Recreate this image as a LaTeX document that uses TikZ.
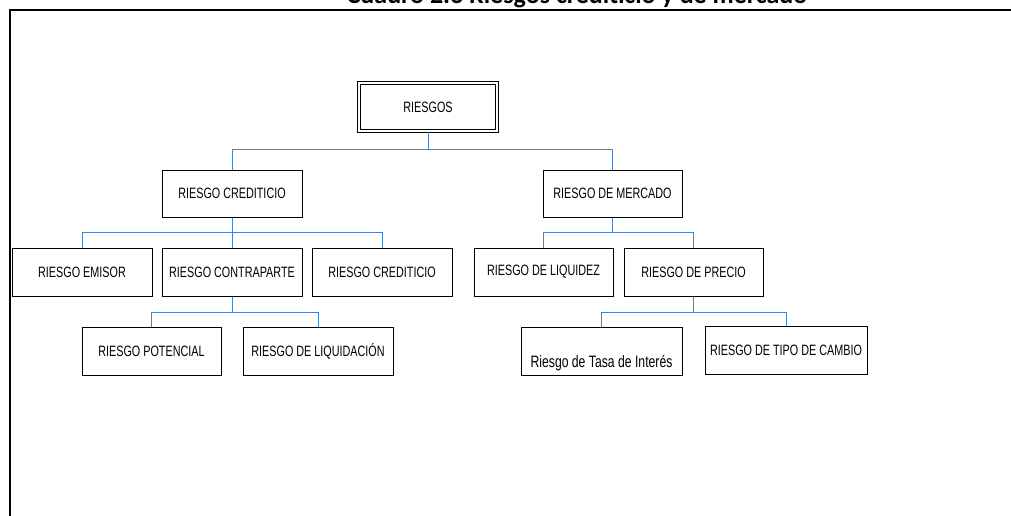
\documentclass[tikz,border=0pt]{standalone}
\usepackage{fontspec}
\newfontfamily\boxfont{Liberation Sans}[FakeStretch=0.72]
\newfontfamily\tasafont{Liberation Sans}[FakeStretch=0.74]
\newfontfamily\titlefont{Carlito}
\definecolor{connblue}{RGB}{79,129,189}
\begin{document}
\begin{tikzpicture}[x=1pt,y=-1pt,
  box/.style={draw=black, line width=1pt, rectangle, inner sep=0pt,
    minimum height=48pt, font=\boxfont\fontsize{15}{17}\selectfont},
  conn/.style={draw=connblue, line width=0.9pt}]
\clip (0,0) rectangle (1011,516);
\fill[white] (0,0) rectangle (1011,516);
% title (clipped at top, as in the reference)
\node[anchor=base, font=\titlefont\bfseries\fontsize{26}{30}\selectfont, inner sep=0pt] (title) at (577,4) {Cuadro 2.3 Riesgos crediticio y de mercado};
% frame
\draw[line width=1.6pt] (10,520) -- (10,10) -- (1015,10);
% nodes
\node[box, minimum width=138pt, line width=1.3pt, double=white, double distance=1.4pt] (riesgos) at (428,107) {RIESGOS};
\node[box, minimum width=140pt, minimum height=47pt] (cred) at (232,193.5) {RIESGO CREDITICIO};
\node[box, minimum width=139pt, minimum height=47pt] (merc) at (612.5,193.5) {RIESGO DE MERCADO};
\node[box, minimum width=140pt] (emisor) at (82,272) {RIESGO EMISOR};
\node[box, minimum width=140pt] (contra) at (232,272) {RIESGO CONTRAPARTE};
\node[box, minimum width=140pt] (cred2) at (382,272) {RIESGO CREDITICIO};
\node[box, minimum width=139pt] (liq) at (543.5,272) {RIESGO DE LIQUIDEZ};
\node[box, minimum width=139pt] (precio) at (693.5,272) {RIESGO DE PRECIO};
\node[box, minimum width=139pt] (pot) at (151.5,351) {RIESGO POTENCIAL};
\node[box, minimum width=150pt] (liqd) at (318,351) {RIESGO DE LIQUIDACIÓN};
\node[box, minimum width=161pt, text height=36pt, text depth=3pt, font=\tasafont\fontsize{16.5}{18}\selectfont] (tasa) at (601.5,351) {Riesgo de Tasa de Interés};
\node[box, minimum width=162pt] (tipo) at (786,350) {RIESGO DE TIPO DE CAMBIO};
% junctions
\coordinate (j1) at (428,149);
\coordinate (j2) at (232,232);
\coordinate (j3) at (612.5,232);
\coordinate (j4) at (232,312);
\coordinate (j5) at (693.5,312);
% connectors
\draw[conn] (riesgos.south) -- (j1);
\draw[conn] (j1) -| (cred.north);
\draw[conn] (j1) -| (merc.north);
\draw[conn] (cred.south) -- (j2);
\draw[conn] (j2) -| (emisor.north);
\draw[conn] (j2) -- (contra.north);
\draw[conn] (j2) -| (cred2.north);
\draw[conn] (merc.south) -- (j3);
\draw[conn] (j3) -| (liq.north);
\draw[conn] (j3) -| (precio.north);
\draw[conn] (contra.south) -- (j4);
\draw[conn] (j4) -| (pot.north);
\draw[conn] (j4) -| (liqd.north);
\draw[conn] (precio.south) -- (j5);
\draw[conn] (j5) -| (tasa.north);
\draw[conn] (j5) -| (tipo.north);
\end{tikzpicture}
\end{document}
